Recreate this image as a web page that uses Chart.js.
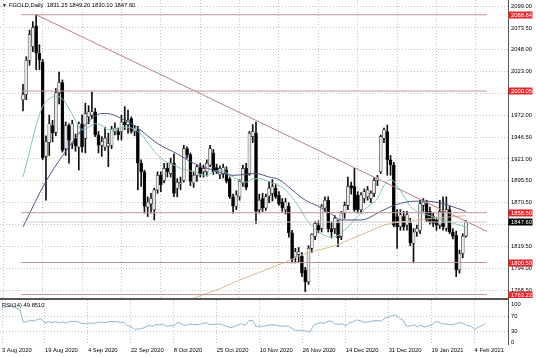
<!DOCTYPE html>
<html><head><meta charset="utf-8">
<script src="https://cdn.jsdelivr.net/npm/chart.js@4"></script>
<style>
html,body{margin:0;padding:0;background:#fff;}
#wrap{position:relative;width:536px;height:357px;overflow:hidden;background:#fff;}
#c1{position:absolute;left:0;top:0;}
#c2{position:absolute;left:0;top:300px;}
#sep{position:absolute;left:0;top:298px;width:509px;height:2px;background:#555;}
</style></head><body>
<div id="wrap">
<canvas id="c1" width="536" height="298"></canvas>
<div id="sep"></div>
<canvas id="c2" width="536" height="57"></canvas>
</div>
<script>
// ---------------- data ----------------
const dateLabels = ['3 Aug 2020','19 Aug 2020','4 Sep 2020','22 Sep 2020','8 Oct 2020','25 Oct 2020','10 Nov 2020','26 Nov 2020','14 Dec 2020','31 Dec 2020','19 Jan 2021','4 Feb 2021'];
const dateTickBars = [0,12,24,36,48,60,72,84,96,108,120,132];

const opens = [1990,1996,2036,2052,2076,2044,2034,1924,1940,1960,
1952,1998,2010,1933,1960,1939,1945,1935,1962,1945,
1970,1972,1976,1949,1937,1935,1936,1937,1953,1953,
1953,1964,1961,1968,1953,1955,1916,1906,1865,1869,
1862,1885,1902,1896,1910,1904,1916,1887,1892,1896,
1933,1926,1893,1902,1911,1906,1906,1914,1928,1911,
1903,1904,1908,1898,1877,1866,1877,1893,1910,1904,
1947,1951,1862,1875,1864,1878,1881,1887,1879,1871,
1862,1866,1835,1807,1810,1808,1792,1778,1817,1831,
1844,1840,1864,1873,1840,1840,1846,1831,1858,1867,
1890,1889,1879,1862,1875,1877,1875,1881,1896,1906,
1945,1953,1920,1914,1854,1842,1854,1844,1846,1823,
1836,1838,1867,1869,1860,1854,1850,1844,1846,1840,
1862,1836,1832,1792,1811,1831.25];
const highs = [2008,2040,2071,2081,2088.84,2054,2037,1948,1972,1966,
2003,2022,2013,1964,1962,1966,1950,1964,1972,1986,
1983,1999,1980,1953,1947,1958,1951,1959,1963,1957,
1972,1982,1978,1970,1960,1959,1920,1908,1877,1881,
1887,1906,1906,1916,1916,1922,1927,1898,1900,1937,
1935,1928,1906,1914,1916,1914,1920,1937,1932,1915,
1913,1915,1912,1900,1880,1884,1897,1914,1916,1953,
1961,1964,1880,1881,1880,1895,1897,1892,1883,1875,
1875,1870,1838,1817,1818,1812,1795,1820,1834,1848,
1849,1868,1877,1877,1848,1855,1850,1860,1871,1900,
1894,1910,1883,1882,1886,1889,1884,1899,1902,1949,
1957,1960.5,1925,1917,1862,1862,1860,1860,1852,1840,
1844,1873,1875,1873,1865,1858,1853,1873,1877,1877,
1866,1840,1837,1815,1834,1849.2];
const lows = [1977,1990,2030,2046,2025,2025,1920,1873,1925,1941,
1948,1985,1929,1925,1916,1933,1930,1908,1929,1928,
1962,1968,1947,1928,1924,1931,1912,1933,1949,1943,
1943,1955,1951,1951,1948,1885,1889,1858,1854,1858,
1850,1881,1883,1893,1900,1900,1877,1877,1885,1894,
1922,1890,1888,1895,1900,1900,1901,1912,1903,1904,
1898,1899,1893,1875,1858,1862,1873,1889,1885,1902,
1940,1846,1858,1860,1861,1870,1872,1875,1867,1860,
1857,1830,1800,1800,1801,1784,1766.6,1775,1812,1827,
1835,1836,1860,1836,1829,1834,1819,1827,1852,1862,
1880,1860,1858,1858,1870,1873,1870,1877,1890,1904,
1940,1902,1902,1842,1817,1838,1838,1838,1820,1800,
1831,1834,1860,1848,1845,1842,1838,1840,1838,1837,
1834,1828,1784,1788,1806,1830.1];
const closes = [1996,2036,2066,2074,2044,2036,1922,1941,1962,1951,
1998,2010,1931,1960,1943,1962,1936,1962,1935,1974,
1976,1976,1949,1937,1941,1945,1939,1955,1957,1949,
1964,1961,1966,1953,1957,1916,1906,1866,1871,1875,
1885,1902,1891,1910,1906,1916,1881,1894,1893,1933,
1926,1895,1902,1912,1904,1910,1916,1933,1906,1906,
1910,1911,1895,1877,1866,1879,1895,1910,1888,1951,
1953,1860,1873,1864,1877,1887,1889,1877,1869,1864,
1871,1835,1804,1813,1813,1788,1778,1817,1833,1846,
1838,1866,1873,1840,1836,1852,1829,1858,1867,1889,
1887,1862,1862,1879,1883,1885,1881,1896,1900,1947,
1955,1920,1914,1844,1842,1856,1842,1856,1823,1836,
1840,1869,1871,1850,1848,1846,1844,1860,1842,1862,
1836,1831,1792,1811,1831,1847.6];

const maFastBars = [0,2,4,6,8,10,12,14,16,18,20,22,24,26,28,30,32,34,36,38,40,42,44,46,48,50,52,54,56,58,60,62,64,66,68,70,72,74,76,78,80,82,84,86,88,90,92,94,96,98,100,102,104,106,108,110,112,114,116,118,120,122,124,126,128,130,132,135];
const maFastValues = [1900,1930,1960,1982,1991,1994,1991,1980,1966,1955,1958,1962,1960,1955,1955,1957,1958,1955,1950,1940,1930,1922,1917,1914,1910,1908,1906,1903,1902,1906,1908,1905,1900,1896,1894,1898,1898,1896,1893,1890,1885,1876,1866,1853,1843,1836,1832,1830,1832,1838,1846,1854,1862,1868,1875,1890,1897,1890,1878,1866,1860,1857,1855,1852,1850,1848,1845,1842];
const maMidBars = [0,7,14,21,24,27,30,34,37,41,47,52,58,64,71,75,78,82,86,90,94,97,103,109,113,117,122,128,132,135];
const maMidValues = [1842,1895,1935,1968,1974,1973,1968,1960,1951,1939,1927,1916,1908,1902,1904,1900,1897,1885,1873,1866,1857,1850,1850,1860,1867,1871,1872,1869,1864,1860];
const maLongBars = [48,52,60,66,74,80,84,90,95,100,105,111,118,125,135];
const maLongValues = [1752,1759,1770,1780,1792,1801,1808,1815,1820,1828,1836,1845,1849,1852,1855];

const rsiValues = [90,94,96,97,90,88,54,56,59,57,
62,63,52,55,53,55,52,55,51,56,
56,56,52,50,51,52,51,54,54,53,
56,55,56,53,54,45,43,35,36,37,
41,46,43,48,47,49,43,45,45,53,
51,45,47,49,47,48,50,53,48,48,
49,49,46,42,40,43,47,50,46,58,
59,42,44,43,45,47,47,45,44,43,
44,37,32,33,33,30,28,45,50,52,
51,56,57,49,48,50,44,52,55,60,
58,54,54,56,58,58,57,65,67,72,
73,64,60,43,44,47,42,46,41,44,
46,55,54,50,49,48,47,51,53,50,
45,44,35,40,45,49.851];

const levelValues = [2088.84, 2000.05, 1858.50, 1800.50, 1763.22];
const lastPrice = 1847.60;
const trendBars = [4, 141.34];
const trendValues = [2088.84, 1836.8];
const priceTicks = [2099.00,2073.50,2048.00,2023.00,1997.50,1972.00,1946.50,1921.00,1895.50,1870.50,1845.00,1819.50,1794.00,1768.50];
const hiddenPriceTicks = [1997.50, 1845.00];
const rsiTicks = [0,30,70,100];
const titleSymbol = 'FGOLD,Daily';
const titleOHLC = [1831.25, 1849.20, 1830.10, 1847.60];
const rsiTitle = 'RSI(14) 49.8510';

// ---------------- config ----------------
const FONT = "'Liberation Sans', Arial, sans-serif";
const FS = 5.8;
const X_MIN = -0.56, X_MAX = 141.34;
const GRID = '#c4c4c4';
const LEVEL_COLOR = '#c49494';
const bars = opens.map((_, i) => i);

function zip(xs, ys){ return xs.map((x, i) => ({x: x, y: ys[i]})); }

function xAxis(showLabels){
  return {
    type: 'linear', min: X_MIN, max: X_MAX, position: 'bottom',
    afterBuildTicks: s => { s.ticks = dateTickBars.map(v => ({value: v})); },
    afterFit: s => { s.height = showLabels ? 13 : 0; s.paddingLeft = 0; s.paddingRight = 0; },
    ticks: {
      display: showLabels, autoSkip: false, maxRotation: 0, minRotation: 0, align: 'start',
      padding: 3, color: '#000', font: {family: FONT, size: FS},
      callback: v => dateLabels[dateTickBars.indexOf(v)]
    },
    grid: {display: true, color: GRID, drawTicks: false, lineWidth: 1},
    border: {display: false, dash: [1, 2]}
  };
}

function tag(ctx, x, y, text, bg){
  ctx.fillStyle = bg;
  ctx.fillRect(x, Math.round(y) - 3.5, 24, 7);
  ctx.fillStyle = '#fff';
  ctx.font = FS + 'px ' + FONT;
  ctx.textAlign = 'left';
  ctx.textBaseline = 'middle';
  ctx.fillText(text, x + 2.5, Math.round(y) + 0.3);
}

const overlayMain = {
  id: 'overlayMain',
  afterDraw(chart){
    const ctx = chart.ctx, ys = chart.scales.y, area = chart.chartArea;
    ctx.save();
    levelValues.forEach(v => tag(ctx, area.right + 0.5, ys.getPixelForValue(v), v.toFixed(2), '#e5262b'));
    tag(ctx, area.right + 0.5, ys.getPixelForValue(lastPrice), lastPrice.toFixed(2), '#000');
    ctx.fillStyle = '#000';
    ctx.textBaseline = 'middle';
    ctx.textAlign = 'left';
    ctx.font = '5px ' + FONT;
    ctx.fillText('\u25BC', 2, 5.5);
    ctx.font = FS + 'px ' + FONT;
    ctx.fillText(titleSymbol + '  ' + titleOHLC.map(v => v.toFixed(2)).join(' '), 9, 5.5);
    ctx.restore();
  }
};

const overlayRsi = {
  id: 'overlayRsi',
  afterDraw(chart){
    const ctx = chart.ctx;
    ctx.save();
    ctx.fillStyle = '#000';
    ctx.textBaseline = 'middle';
    ctx.textAlign = 'left';
    ctx.font = FS + 'px ' + FONT;
    ctx.fillText(rsiTitle, 2, 5);
    ctx.restore();
  }
};

const lineBase = {type: 'line', pointRadius: 0, borderWidth: 1, fill: false, order: 0};

new Chart(document.getElementById('c1'), {
  data: {
    datasets: [
      Object.assign({}, lineBase, {label: 'lvl0', data: zip([X_MIN, X_MAX], [levelValues[0], levelValues[0]]), borderColor: LEVEL_COLOR}),
      Object.assign({}, lineBase, {label: 'lvl1', data: zip([X_MIN, X_MAX], [levelValues[1], levelValues[1]]), borderColor: LEVEL_COLOR}),
      Object.assign({}, lineBase, {label: 'lvl2', data: zip([X_MIN, X_MAX], [levelValues[2], levelValues[2]]), borderColor: LEVEL_COLOR}),
      Object.assign({}, lineBase, {label: 'lvl3', data: zip([X_MIN, X_MAX], [levelValues[3], levelValues[3]]), borderColor: LEVEL_COLOR}),
      Object.assign({}, lineBase, {label: 'lvl4', data: zip([X_MIN, X_MAX], [levelValues[4], levelValues[4]]), borderColor: LEVEL_COLOR}),
      Object.assign({}, lineBase, {label: 'bid', data: zip([X_MIN, X_MAX], [lastPrice, lastPrice]), borderColor: '#d6cccc'}),
      Object.assign({}, lineBase, {label: 'trend', data: zip(trendBars, trendValues), borderColor: '#b88080'}),
      Object.assign({}, lineBase, {label: 'maLong', data: zip(maLongBars, maLongValues), borderColor: '#d9bc94', cubicInterpolationMode: 'monotone'}),
      Object.assign({}, lineBase, {label: 'maMid', data: zip(maMidBars, maMidValues), borderColor: '#4b5889', cubicInterpolationMode: 'monotone'}),
      Object.assign({}, lineBase, {label: 'maFast', data: zip(maFastBars, maFastValues), borderColor: '#88c4bc', cubicInterpolationMode: 'monotone'}),
      {
        type: 'bar', label: 'bodies', order: 1, grouped: false,
        data: bars.map(i => ({x: i, y: [opens[i], closes[i]]})),
        barThickness: 3, minBarLength: 1, borderWidth: 0.6, borderSkipped: false,
        borderColor: '#222',
        backgroundColor: bars.map(i => closes[i] >= opens[i] ? '#e8e8e8' : '#000')
      },
      {
        type: 'bar', label: 'wicks', order: 2, grouped: false,
        data: bars.map(i => ({x: i, y: [lows[i], highs[i]]})),
        barThickness: 1, backgroundColor: '#111', borderWidth: 0
      }
    ]
  },
  options: {
    responsive: false, animation: false, devicePixelRatio: 1,
    layout: {padding: 0},
    plugins: {legend: {display: false}, tooltip: {enabled: false}, title: {display: false}},
    scales: {
      x: xAxis(false),
      y: {
        position: 'right', min: 1759.2, max: 2106,
        afterBuildTicks: s => { s.ticks = priceTicks.map(v => ({value: v})); },
        afterFit: s => { s.width = 28; s.paddingTop = 0; s.paddingBottom = 0; },
        ticks: {color: '#000', padding: 3, font: {family: FONT, size: FS},
          callback: v => hiddenPriceTicks.includes(v) ? '' : v.toFixed(2)},
        grid: {color: GRID, drawTicks: false},
        border: {display: true, color: '#555', width: 1, dash: [1, 2]}
      }
    }
  },
  plugins: [overlayMain]
});

new Chart(document.getElementById('c2'), {
  type: 'line',
  data: {
    datasets: [{
      label: 'RSI', data: zip(bars, rsiValues), borderColor: '#8db8cc', borderWidth: 1, pointRadius: 0, fill: false, tension: 0
    }]
  },
  options: {
    responsive: false, animation: false, devicePixelRatio: 1,
    layout: {padding: 0},
    plugins: {legend: {display: false}, tooltip: {enabled: false}},
    scales: {
      x: xAxis(true),
      y: {
        position: 'right', min: -3.42, max: 112.37,
        afterBuildTicks: s => { s.ticks = rsiTicks.map(v => ({value: v})); },
        afterFit: s => { s.width = 28; s.paddingTop = 0; s.paddingBottom = 0; },
        ticks: {color: '#000', padding: 3, font: {family: FONT, size: FS}, callback: v => String(v)},
        grid: {drawTicks: false, color: c => (c.tick && (c.tick.value === 30 || c.tick.value === 70)) ? GRID : 'rgba(0,0,0,0)'},
        border: {display: true, color: '#555', width: 1, dash: [1, 2]}
      }
    }
  },
  plugins: [overlayRsi]
});
</script>
</body></html>
